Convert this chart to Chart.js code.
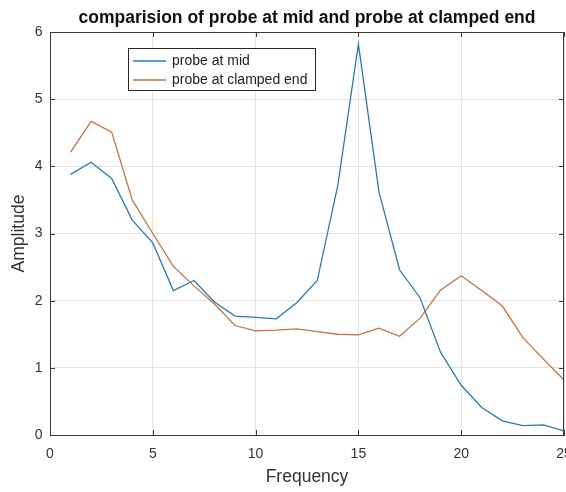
<!DOCTYPE html>
<html>
<head>
<meta charset="utf-8">
<title>comparision of probe at mid and probe at clamped end</title>
<script src="https://cdn.jsdelivr.net/npm/chart.js@4.4.1/dist/chart.umd.min.js"></script>
<style>
  html, body { margin: 0; padding: 0; background: #fff; }
  #wrap { width: 566px; height: 492px; }
</style>
</head>
<body>
<div id="wrap"><canvas id="chart" width="566" height="492"></canvas></div>
<script>
// data
const frequency = [1, 2, 3, 4, 5, 6, 7, 8, 9, 10, 11, 12, 13, 14, 15, 16, 17, 18, 19, 20, 21, 22, 23, 24, 25];
const probeAtMid = [3.88, 4.06, 3.82, 3.2, 2.86, 2.15, 2.3, 1.98, 1.77, 1.75, 1.73, 1.97, 2.3, 3.72, 5.82, 3.62, 2.46, 2.04, 1.23, 0.74, 0.41, 0.21, 0.14, 0.15, 0.06];
const probeAtClamped = [4.21, 4.67, 4.51, 3.5, 3.0, 2.51, 2.22, 1.95, 1.63, 1.55, 1.56, 1.58, 1.54, 1.5, 1.49, 1.59, 1.47, 1.74, 2.16, 2.37, 2.15, 1.92, 1.45, 1.13, 0.82];
const seriesNames = ['probe at mid', 'probe at clamped end'];
const xTicks = [0, 5, 10, 15, 20, 25];
const yTicks = [0, 1, 2, 3, 4, 5, 6];

const FONT = "'Liberation Sans', Arial, Helvetica, sans-serif";
const textColor = '#333333';
const axisColor = '#3a3a3a';
const colors = ['#2b7bb0', '#c9713f'];

const toPoints = (ys) => frequency.map((f, i) => ({ x: f, y: ys[i] }));

// box around the axes, inward ticks, and a MATLAB-like legend in the corner
const matlabBox = {
  id: 'matlabBox',
  afterDraw(chart) {
    const { ctx, chartArea: a, scales } = chart;
    ctx.save();
    ctx.strokeStyle = axisColor;
    ctx.lineWidth = 1;
    ctx.strokeRect(a.left + 0.5, a.top + 0.5, a.right - a.left - 1, a.bottom - a.top);

    // inward tick marks
    ctx.beginPath();
    xTicks.forEach(v => {
      const px = Math.round(scales.x.getPixelForValue(v)) + 0.5;
      ctx.moveTo(px, a.bottom); ctx.lineTo(px, a.bottom - 5);
      ctx.moveTo(px, a.top); ctx.lineTo(px, a.top + 5);
    });
    yTicks.forEach(v => {
      const py = Math.round(scales.y.getPixelForValue(v)) + 0.5;
      ctx.moveTo(a.left, py); ctx.lineTo(a.left + 5, py);
      ctx.moveTo(a.right, py); ctx.lineTo(a.right - 5, py);
    });
    ctx.stroke();

    // legend
    const lx = 128, ly = 48, lw = 187, lh = 42;
    ctx.fillStyle = '#fff';
    ctx.fillRect(lx, ly, lw, lh);
    ctx.strokeStyle = '#262626';
    ctx.strokeRect(lx + 0.5, ly + 0.5, lw, lh);
    ctx.font = '14px ' + FONT;
    ctx.textBaseline = 'middle';
    chart.data.datasets.forEach((ds, i) => {
      const y = ly + 13 + i * 19;
      ctx.strokeStyle = ds.borderColor;
      ctx.lineWidth = 1.3;
      ctx.beginPath();
      ctx.moveTo(lx + 5, y); ctx.lineTo(lx + 38, y);
      ctx.stroke();
      ctx.fillStyle = '#222';
      ctx.fillText(ds.label, lx + 44, y);
    });
    ctx.restore();
  }
};

document.addEventListener('DOMContentLoaded', () => {
  const ctx = document.getElementById('chart').getContext('2d');
  new Chart(ctx, {
    type: 'line',
    data: {
      datasets: [
        { label: seriesNames[0], data: toPoints(probeAtMid), borderColor: colors[0], borderWidth: 1.3, pointRadius: 0, tension: 0, fill: false },
        { label: seriesNames[1], data: toPoints(probeAtClamped), borderColor: colors[1], borderWidth: 1.3, pointRadius: 0, tension: 0, fill: false }
      ]
    },
    options: {
      responsive: false,
      animation: false,
      layout: { padding: { left: 0, right: 2, top: 0, bottom: 0 } },
      plugins: {
        legend: { display: false },
        tooltip: { enabled: false },
        title: {
          display: true,
          fullSize: false,
          text: 'comparision of probe at mid and probe at clamped end',
          color: '#111',
          font: { family: FONT, size: 17.5, weight: 'bold', lineHeight: 1.2 },
          padding: { top: 8, bottom: 3 }
        }
      },
      scales: {
        x: {
          type: 'linear',
          min: 0,
          max: 25,
          afterBuildTicks: (s) => { s.ticks = xTicks.map(v => ({ value: v })); },
          afterFit: (s) => { s.height = 57; s.paddingLeft = 0; s.paddingRight = 0; },
          grid: { color: '#e3e3e3', drawTicks: false },
          border: { color: axisColor, width: 1 },
          ticks: { color: textColor, font: { family: FONT, size: 14 }, padding: 11, maxRotation: 0 },
          title: { display: true, text: 'Frequency', color: textColor, font: { family: FONT, size: 17.5 }, padding: { top: 0, bottom: 4 } }
        },
        y: {
          min: 0,
          max: 6,
          afterBuildTicks: (s) => { s.ticks = yTicks.map(v => ({ value: v })); },
          afterFit: (s) => { s.width = 50; s.paddingTop = 0; s.paddingBottom = 0; },
          grid: { color: '#e3e3e3', drawTicks: false },
          border: { color: axisColor, width: 1 },
          ticks: { color: textColor, font: { family: FONT, size: 14 }, padding: 7.5 },
          title: { display: true, text: 'Amplitude', color: textColor, font: { family: FONT, size: 17.5 }, padding: { top: 8.5, bottom: 0 } }
        }
      }
    },
    plugins: [matlabBox]
  });
});
</script>
</body>
</html>
